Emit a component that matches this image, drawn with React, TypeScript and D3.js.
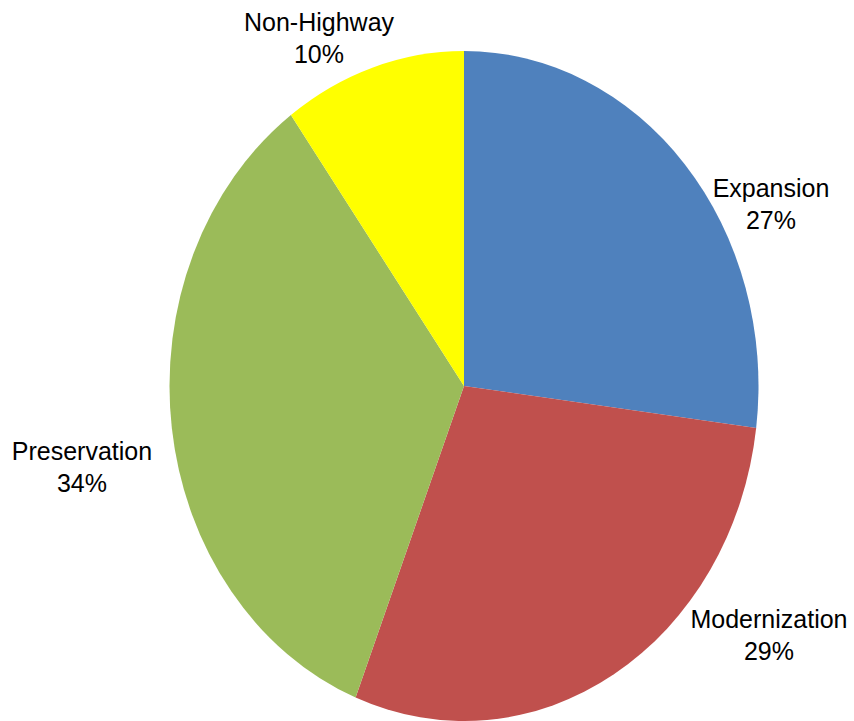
import React from "react";
import * as d3 from "d3";

const categories = ["Expansion", "Modernization", "Preservation", "Non-Highway"];
const values = [27, 29, 34, 10];
const colors = ["#4F81BD", "#C0504D", "#9BBB59", "#FFFF00"];

const W = 854;
const H = 721;
const cx = 464;
const cy = 386;
const rx = 294.5;
const ry = 335;

// label layout (center x, first-line baseline y)
const labelLayout: [number, number][] = [
  [771, 197],
  [769, 628],
  [82, 460],
  [319, 31],
];

export default function App() {
  const pie = d3
    .pie<number>()
    .sort(null)
    .startAngle(0)
    .endAngle(2 * Math.PI)
    .value((d) => d);
  const arcs = pie(values);
  const arc = d3.arc<d3.PieArcDatum<number>>().innerRadius(0).outerRadius(rx);
  const fmt = d3.format(".0%");
  const total = d3.sum(values);

  return (
    <svg
      width={W}
      height={H}
      style={{ position: "fixed", left: 0, top: 0, display: "block", background: "#fff" }}
    >
      <g transform={`translate(${cx},${cy}) scale(1,${ry / rx})`}>
        {arcs.map((a, i) => (
          <path key={i} d={arc(a) || ""} fill={colors[i]} />
        ))}
      </g>
      {categories.map((c, i) => (
        <text
          key={c}
          x={labelLayout[i][0]}
          y={labelLayout[i][1]}
          textAnchor="middle"
          fontFamily="'Liberation Sans', Arial, sans-serif"
          fontSize={25}
          fill="#000"
        >
          <tspan x={labelLayout[i][0]}>{c}</tspan>
          <tspan x={labelLayout[i][0]} dy={32}>
            {fmt(values[i] / total)}
          </tspan>
        </text>
      ))}
    </svg>
  );
}
